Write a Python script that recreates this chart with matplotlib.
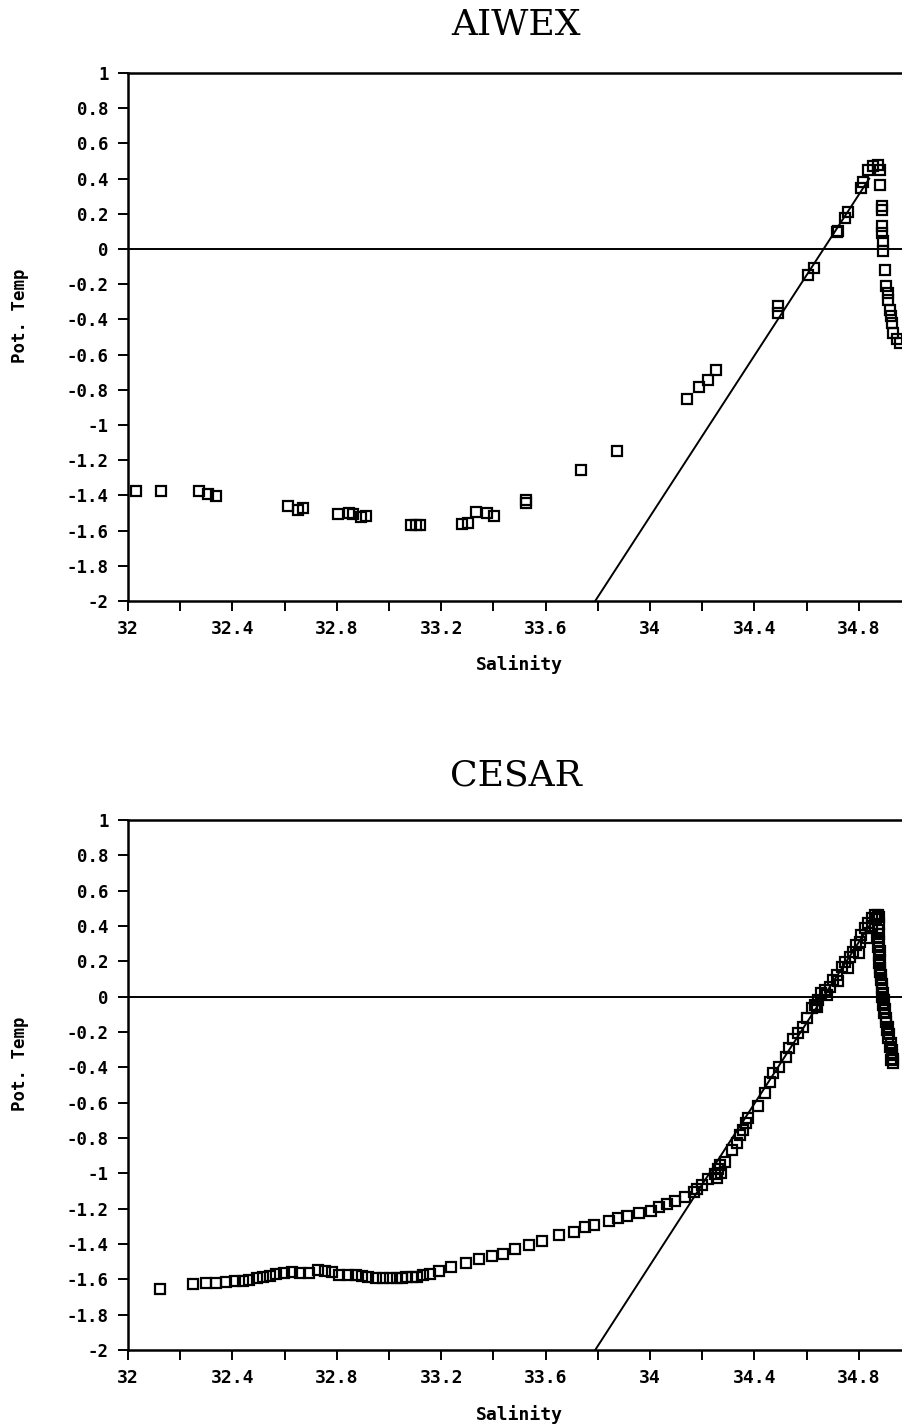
import numpy as np
import matplotlib
matplotlib.use("Agg")
from matplotlib import pyplot as plt
from matplotlib.ticker import MultipleLocator

plt.rcParams['axes.unicode_minus'] = False

# AIWEX station data (salinity, potential temperature)
aiwex_sal = [32.03, 32.126, 32.273, 32.307, 32.337, 32.614, 32.653, 32.672, 32.806, 32.848,
             32.863, 32.891, 32.91, 33.086, 33.105, 33.119, 33.281, 33.304, 33.332, 33.374,
             33.402, 33.525, 33.525, 33.736, 33.873, 34.14, 34.186, 34.221, 34.253, 34.489,
             34.489, 34.604, 34.63, 34.715, 34.72, 34.747, 34.76, 34.81, 34.817, 34.836,
             34.856, 34.875, 34.881, 34.881, 34.887, 34.887, 34.89, 34.89, 34.892, 34.893,
             34.90, 34.906, 34.91, 34.913, 34.92, 34.923, 34.926, 34.932, 34.945, 34.958]
aiwex_temp = [-1.375, -1.373, -1.377, -1.394, -1.405, -1.46, -1.484, -1.473, -1.503, -1.501,
              -1.503, -1.52, -1.517, -1.566, -1.566, -1.567, -1.56, -1.556, -1.496, -1.501,
              -1.516, -1.426, -1.445, -1.258, -1.146, -0.855, -0.785, -0.743, -0.686, -0.326,
              -0.363, -0.146, -0.108, 0.094, 0.105, 0.176, 0.213, 0.346, 0.383, 0.45,
              0.469, 0.478, 0.45, 0.365, 0.242, 0.22, 0.128, 0.09, 0.043, -0.013,
              -0.117, -0.212, -0.25, -0.288, -0.344, -0.382, -0.42, -0.476, -0.514, -0.533]

# CESAR station data
cesar_sal = [32.123, 32.248, 32.299, 32.337, 32.375, 32.41, 32.441, 32.464, 32.493, 32.518,
             32.544, 32.566, 32.598, 32.628, 32.659, 32.693, 32.729, 32.756, 32.78, 32.81,
             32.844, 32.874, 32.895, 32.918, 32.95, 32.978, 33.003, 33.029, 33.048, 33.067,
             33.087, 33.106, 33.131, 33.157, 33.192, 33.236, 33.295, 33.345, 33.393, 33.435,
             33.483, 33.536, 33.587, 33.652, 33.708, 33.751, 33.785, 33.844, 33.879, 33.91,
             33.959, 34.002, 34.035, 34.064, 34.096, 34.134, 34.17, 34.18, 34.20, 34.223,
             34.249, 34.262, 34.268, 34.287, 34.255, 34.272, 34.313, 34.334, 34.345, 34.355,
             34.368, 34.377, 34.412, 34.44, 34.46, 34.472, 34.495, 34.521, 34.533, 34.549,
             34.568, 34.587, 34.6, 34.619, 34.632, 34.645, 34.657, 34.671, 34.69, 34.702,
             34.715, 34.734, 34.747, 34.766, 34.779, 34.791, 34.804, 34.81, 34.824, 34.836,
             34.849, 34.862, 34.875, 34.879,
             34.64, 34.68, 34.72, 34.76, 34.80, 34.83, 34.85, 34.865,
             34.875, 34.875, 34.875, 34.878, 34.879, 34.881, 34.884, 34.888, 34.89, 34.894,
             34.897, 34.903, 34.907, 34.913, 34.92, 34.926, 34.93,
             34.877, 34.879, 34.877, 34.88, 34.882, 34.883, 34.886, 34.889, 34.892, 34.895,
             34.899, 34.905, 34.91, 34.916, 34.922, 34.928, 34.932, 34.925]
cesar_temp = [-1.656, -1.626, -1.622, -1.619, -1.616, -1.607, -1.607, -1.603, -1.594, -1.586,
              -1.581, -1.571, -1.565, -1.558, -1.565, -1.565, -1.549, -1.552, -1.556, -1.573,
              -1.573, -1.575, -1.581, -1.585, -1.592, -1.592, -1.594, -1.59, -1.59, -1.588,
              -1.588, -1.587, -1.577, -1.569, -1.552, -1.528, -1.508, -1.486, -1.467, -1.456,
              -1.428, -1.407, -1.381, -1.349, -1.33, -1.302, -1.292, -1.268, -1.255, -1.242,
              -1.226, -1.213, -1.188, -1.175, -1.156, -1.133, -1.104, -1.091, -1.066, -1.034,
              -1.004, -0.977, -0.953, -0.934, -1.025, -1.0, -0.868, -0.83, -0.783, -0.754,
              -0.717, -0.688, -0.619, -0.547, -0.481, -0.433, -0.396, -0.339, -0.292, -0.241,
              -0.207, -0.17, -0.122, -0.066, -0.047, -0.019, 0.019, 0.037, 0.057, 0.094,
              0.123, 0.17, 0.198, 0.226, 0.254, 0.293, 0.311, 0.349, 0.387, 0.415,
              0.443, 0.462, 0.462, 0.453,
              -0.06, 0.01, 0.09, 0.16, 0.25, 0.33, 0.40, 0.44,
              0.377, 0.33, 0.283, 0.236, 0.188, 0.141, 0.094, 0.047, 0.0, -0.047,
              -0.095, -0.142, -0.189, -0.236, -0.284, -0.331, -0.374,
              0.41, 0.355, 0.31, 0.26, 0.21, 0.165, 0.12, 0.07, 0.02, -0.02,
              -0.07, -0.12, -0.17, -0.21, -0.26, -0.30, -0.35, -0.36]

# reference mixing line
line_sal = [33.79, 34.84]
line_temp = [-2.0, 0.40]

yticks = [1, 0.8, 0.6, 0.4, 0.2, 0, -0.2, -0.4, -0.6, -0.8, -1, -1.2, -1.4, -1.6, -1.8, -2]
ytick_labels = ['1', '0.8', '0.6', '0.4', '0.2', '0', '-0.2', '-0.4', '-0.6', '-0.8',
                '-1', '-1.2', '-1.4', '-1.6', '-1.8', '-2']
xticks = [32, 32.4, 32.8, 33.2, 33.6, 34, 34.4, 34.8]
xtick_labels = ['32', '32.4', '32.8', '33.2', '33.6', '34', '34.4', '34.8']

W, H = 903, 1424
fig = plt.figure(figsize=(W / 100, H / 100), dpi=100)

mono = 'DejaVu Sans Mono'
panels = [
    ("AIWEX", aiwex_sal, aiwex_temp, 73, 601, 25),
    ("CESAR", cesar_sal, cesar_temp, 820, 1350, 775),
]

for title, sal, temp, top_px, bot_px, title_px in panels:
    ax = fig.add_axes([128 / W, 1 - bot_px / H, (W - 128) / W, (bot_px - top_px) / H])
    ax.plot(line_sal, line_temp, color='black', lw=1.4, zorder=2)
    ax.axhline(0, color='black', lw=1.4, zorder=2)
    ax.plot(sal, temp, linestyle='none', marker='s', ms=6.8, mfc='none',
            mec='black', mew=1.6, zorder=3, clip_on=False)
    ax.set_xlim(32, 32 + (W - 128) / 261.0)
    ax.set_ylim(-2, 1)

    ax.spines['right'].set_visible(False)
    for s in ['left', 'bottom', 'top']:
        ax.spines[s].set_linewidth(1.8)

    ax.set_xticks(xticks)
    ax.set_xticklabels(xtick_labels, fontfamily=mono, fontweight='bold', fontsize=13)
    ax.xaxis.set_minor_locator(MultipleLocator(0.2))
    ax.set_yticks(yticks)
    ax.set_yticklabels(ytick_labels, fontfamily=mono, fontweight='bold', fontsize=12.5)
    ax.tick_params(axis='both', which='both', direction='out', length=7, width=1.4)
    ax.tick_params(axis='x', pad=7)
    ax.tick_params(axis='y', pad=7)

    ax.set_xlabel("Salinity", fontfamily=mono, fontweight='bold', fontsize=13)
    ax.xaxis.set_label_coords(0.505, -0.103)
    ax.set_ylabel("Pot. Temp", fontfamily=mono, fontweight='bold', fontsize=12.5)
    ax.yaxis.set_label_coords(-0.128, 0.54)

    fig.text(516 / W, 1 - title_px / H, title, ha='center', va='center',
             fontfamily='DejaVu Serif', fontsize=26)

plt.savefig("out.png", dpi=100)
